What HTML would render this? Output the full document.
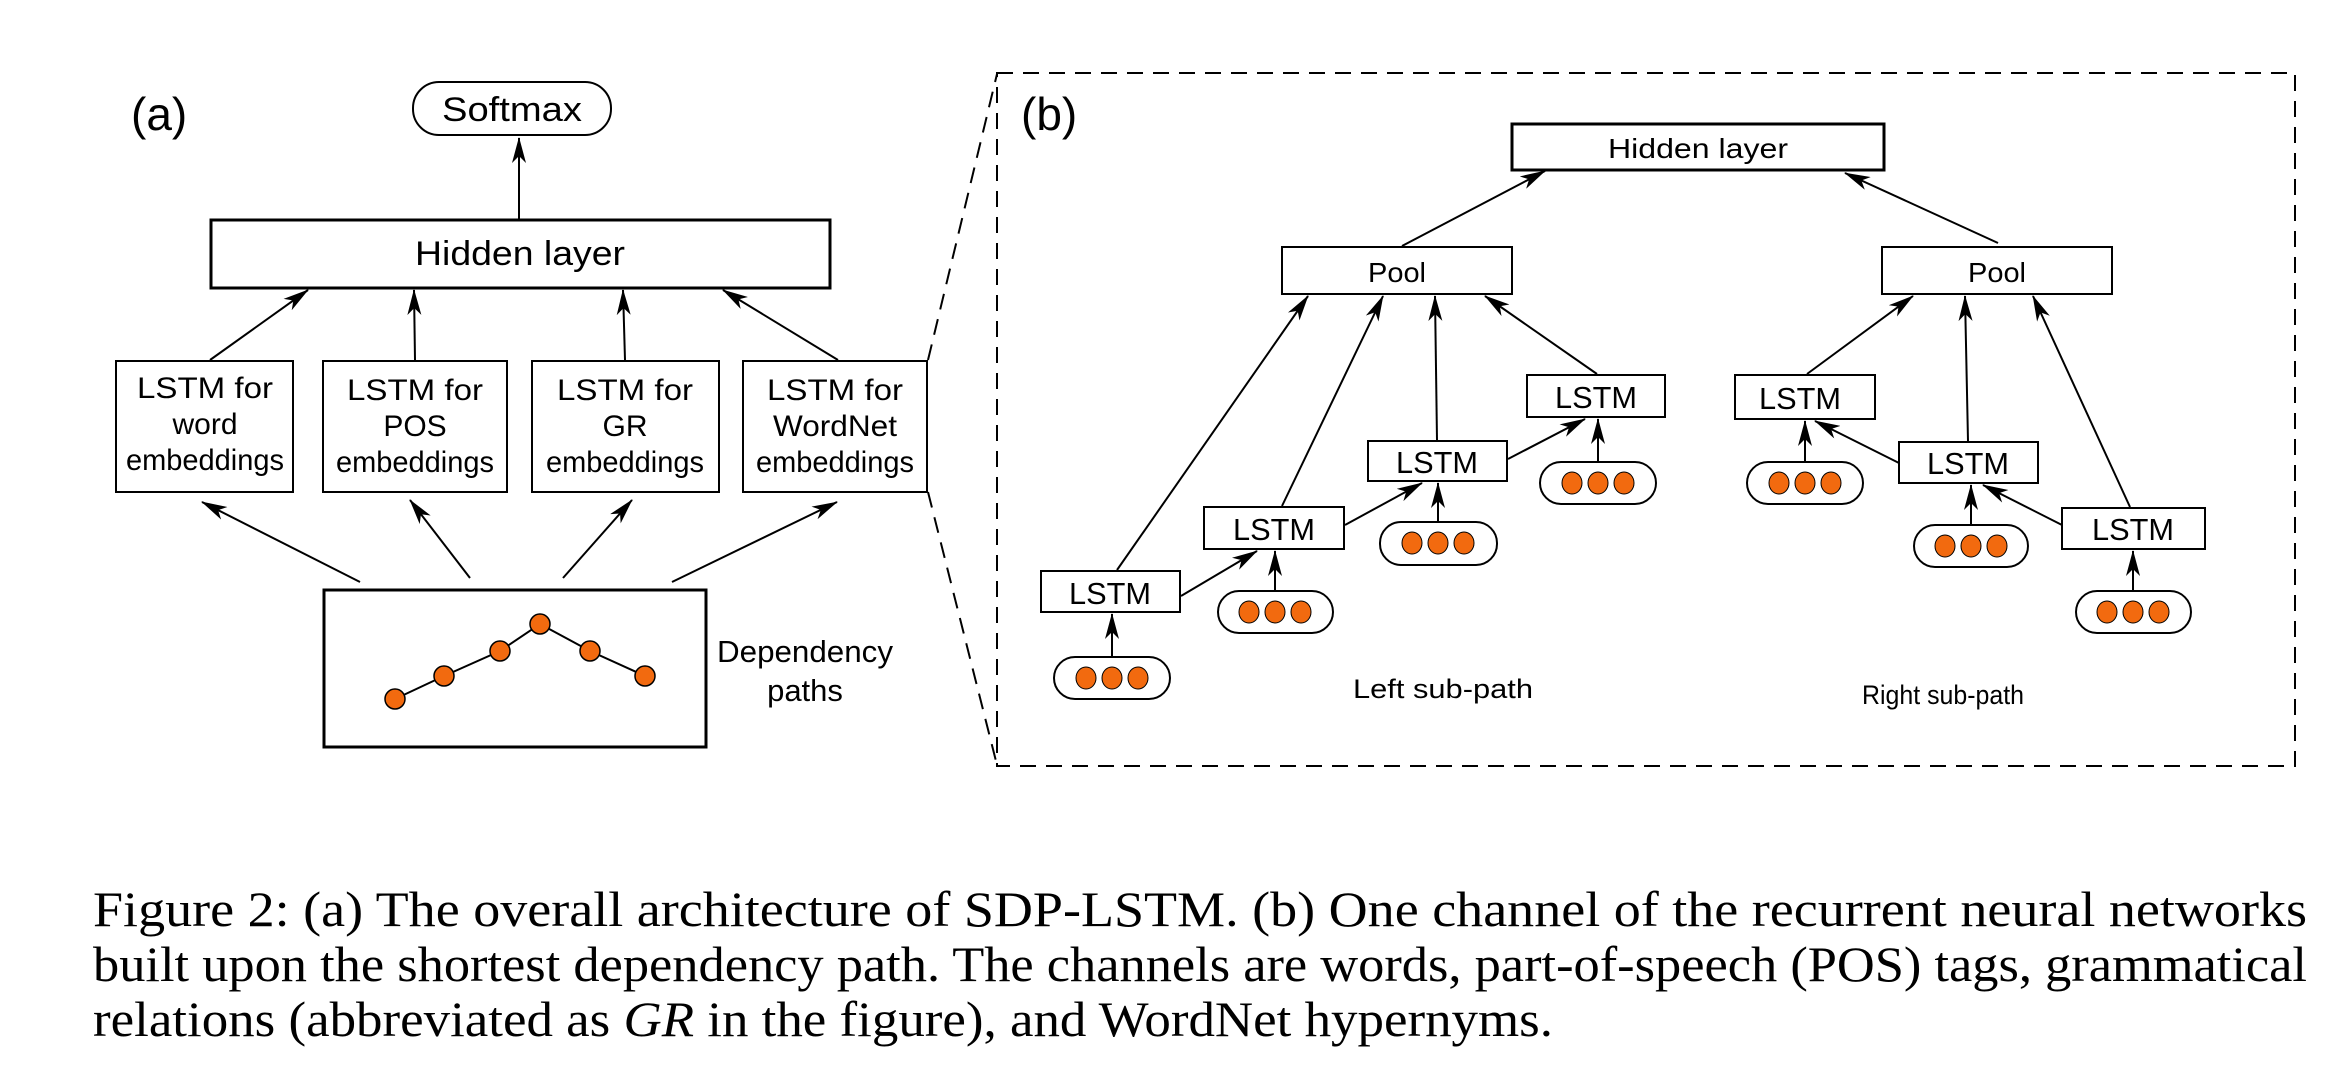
<!DOCTYPE html>
<html><head><meta charset="utf-8"><style>html,body{margin:0;padding:0;background:#fff}svg{display:block}</style></head>
<body>
<svg width="2351" height="1080" viewBox="0 0 2351 1080" xmlns="http://www.w3.org/2000/svg">
<defs>
<marker id="ah" viewBox="0 0 26 14" refX="25" refY="7" markerWidth="26" markerHeight="14" markerUnits="userSpaceOnUse" orient="auto">
<path d="M0,0 L26,7 L0,14 L7,7 Z" fill="#000"/>
</marker>
</defs>
<g font-family="Liberation Sans, sans-serif" fill="#000">
<text x="131" y="130" font-size="46">(a)</text>
<rect x="413" y="82" width="198" height="53" rx="26" fill="#fff" stroke="#000" stroke-width="2"/>
<text x="512" y="121" font-size="34" text-anchor="middle" textLength="140" lengthAdjust="spacingAndGlyphs">Softmax</text>
<line x1="519" y1="220" x2="519" y2="138" stroke="#000" stroke-width="2" marker-end="url(#ah)"/>
<rect x="211" y="220" width="619" height="68" fill="#fff" stroke="#000" stroke-width="3"/>
<text x="520" y="265" font-size="34" text-anchor="middle" textLength="210" lengthAdjust="spacingAndGlyphs">Hidden layer</text>
<g stroke="#000" stroke-width="2" fill="#fff">
<rect x="116" y="361" width="177" height="131"/>
<rect x="323" y="361" width="184" height="131"/>
<rect x="532" y="361" width="187" height="131"/>
<rect x="743" y="361" width="184" height="131"/>
</g>
<g font-size="30" text-anchor="middle">
<text x="205" y="398" textLength="136" lengthAdjust="spacingAndGlyphs">LSTM for</text><text x="205" y="434">word</text><text x="205" y="470" textLength="158" lengthAdjust="spacingAndGlyphs">embeddings</text>
<text x="415" y="400" textLength="136" lengthAdjust="spacingAndGlyphs">LSTM for</text><text x="415" y="436">POS</text><text x="415" y="472" textLength="158" lengthAdjust="spacingAndGlyphs">embeddings</text>
<text x="625" y="400" textLength="136" lengthAdjust="spacingAndGlyphs">LSTM for</text><text x="625" y="436">GR</text><text x="625" y="472" textLength="158" lengthAdjust="spacingAndGlyphs">embeddings</text>
<text x="835" y="400" textLength="136" lengthAdjust="spacingAndGlyphs">LSTM for</text><text x="835" y="436" textLength="124" lengthAdjust="spacingAndGlyphs">WordNet</text><text x="835" y="472" textLength="158" lengthAdjust="spacingAndGlyphs">embeddings</text>
</g>
<g stroke="#000" stroke-width="2" marker-end="url(#ah)">
<line x1="210" y1="360" x2="308" y2="290"/>
<line x1="415" y1="360" x2="414" y2="290"/>
<line x1="625" y1="360" x2="623" y2="290"/>
<line x1="838" y1="360" x2="723" y2="290"/>
<line x1="360" y1="582" x2="202" y2="502"/>
<line x1="470" y1="578" x2="410" y2="500"/>
<line x1="563" y1="578" x2="632" y2="500"/>
<line x1="672" y1="582" x2="837" y2="502"/>
</g>
<rect x="324" y="590" width="382" height="157" fill="#fff" stroke="#000" stroke-width="3"/>
<polyline points="395,699 444,676 500,651 540,624 590,651 645,676" fill="none" stroke="#000" stroke-width="2"/>
<g fill="#f26a0f" stroke="#000" stroke-width="1.5">
<circle cx="395" cy="699" r="10"/><circle cx="444" cy="676" r="10"/><circle cx="500" cy="651" r="10"/>
<circle cx="540" cy="624" r="10"/><circle cx="590" cy="651" r="10"/><circle cx="645" cy="676" r="10"/>
</g>
<text x="805" y="662" font-size="31" text-anchor="middle" textLength="176" lengthAdjust="spacingAndGlyphs">Dependency</text>
<text x="805" y="701" font-size="31" text-anchor="middle">paths</text>
<g stroke="#000" stroke-width="2" stroke-dasharray="16,10" fill="none">
<line x1="928" y1="360" x2="997" y2="74"/>
<line x1="928" y1="492" x2="997" y2="765"/>
<rect x="997" y="73" width="1298" height="693"/>
</g>
<text x="1021" y="130" font-size="46">(b)</text>
<rect x="1512" y="124" width="372" height="46" fill="#fff" stroke="#000" stroke-width="3"/>
<text x="1698" y="158" font-size="28" text-anchor="middle" textLength="180" lengthAdjust="spacingAndGlyphs">Hidden layer</text>
<rect x="1282" y="247" width="230" height="47" fill="#fff" stroke="#000" stroke-width="2"/>
<rect x="1882" y="247" width="230" height="47" fill="#fff" stroke="#000" stroke-width="2"/>
<text x="1397" y="282" font-size="28" text-anchor="middle" textLength="58" lengthAdjust="spacingAndGlyphs">Pool</text>
<text x="1997" y="282" font-size="28" text-anchor="middle" textLength="58" lengthAdjust="spacingAndGlyphs">Pool</text>
<g stroke="#000" stroke-width="2" fill="#fff">
<rect x="1041" y="571" width="139" height="41"/>
<rect x="1204" y="507" width="140" height="42"/>
<rect x="1368" y="441" width="139" height="40"/>
<rect x="1527" y="375" width="138" height="42"/>
<rect x="1735" y="375" width="140" height="44"/>
<rect x="1899" y="442" width="139" height="41"/>
<rect x="2062" y="508" width="143" height="41"/>
</g>
<g font-size="31" text-anchor="middle">
<text x="1110" y="604" textLength="82" lengthAdjust="spacingAndGlyphs">LSTM</text><text x="1274" y="540" textLength="82" lengthAdjust="spacingAndGlyphs">LSTM</text><text x="1437" y="473" textLength="82" lengthAdjust="spacingAndGlyphs">LSTM</text>
<text x="1596" y="408" textLength="82" lengthAdjust="spacingAndGlyphs">LSTM</text><text x="1800" y="409" textLength="82" lengthAdjust="spacingAndGlyphs">LSTM</text><text x="1968" y="474" textLength="82" lengthAdjust="spacingAndGlyphs">LSTM</text><text x="2133" y="540" textLength="82" lengthAdjust="spacingAndGlyphs">LSTM</text>
</g>
<g stroke="#000" stroke-width="2" fill="#fff">
<rect x="1054" y="657" width="116" height="42" rx="21"/>
<rect x="1218" y="591" width="115" height="42" rx="21"/>
<rect x="1380" y="522" width="117" height="43" rx="21"/>
<rect x="1540" y="462" width="116" height="42" rx="21"/>
<rect x="1747" y="462" width="116" height="42" rx="21"/>
<rect x="1914" y="525" width="114" height="42" rx="21"/>
<rect x="2076" y="591" width="115" height="42" rx="21"/>
</g>
<g fill="#f26a0f" stroke="#000" stroke-width="1">
<g transform="translate(1112,678)"><ellipse cx="-26" rx="10" ry="11"/><ellipse rx="10" ry="11"/><ellipse cx="26" rx="10" ry="11"/></g>
<g transform="translate(1275,612)"><ellipse cx="-26" rx="10" ry="11"/><ellipse rx="10" ry="11"/><ellipse cx="26" rx="10" ry="11"/></g>
<g transform="translate(1438,543)"><ellipse cx="-26" rx="10" ry="11"/><ellipse rx="10" ry="11"/><ellipse cx="26" rx="10" ry="11"/></g>
<g transform="translate(1598,483)"><ellipse cx="-26" rx="10" ry="11"/><ellipse rx="10" ry="11"/><ellipse cx="26" rx="10" ry="11"/></g>
<g transform="translate(1805,483)"><ellipse cx="-26" rx="10" ry="11"/><ellipse rx="10" ry="11"/><ellipse cx="26" rx="10" ry="11"/></g>
<g transform="translate(1971,546)"><ellipse cx="-26" rx="10" ry="11"/><ellipse rx="10" ry="11"/><ellipse cx="26" rx="10" ry="11"/></g>
<g transform="translate(2133,612)"><ellipse cx="-26" rx="10" ry="11"/><ellipse rx="10" ry="11"/><ellipse cx="26" rx="10" ry="11"/></g>
</g>
<g stroke="#000" stroke-width="2" marker-end="url(#ah)">
<line x1="1402" y1="246" x2="1545" y2="171"/>
<line x1="1998" y1="243" x2="1845" y2="173"/>
<line x1="1112" y1="656" x2="1112" y2="614"/>
<line x1="1275" y1="590" x2="1275" y2="551"/>
<line x1="1438" y1="521" x2="1438" y2="483"/>
<line x1="1598" y1="461" x2="1598" y2="419"/>
<line x1="1805" y1="461" x2="1805" y2="421"/>
<line x1="1971" y1="524" x2="1971" y2="485"/>
<line x1="2133" y1="590" x2="2133" y2="551"/>
<line x1="1181" y1="596" x2="1257" y2="551"/>
<line x1="1345" y1="525" x2="1422" y2="483"/>
<line x1="1508" y1="459" x2="1585" y2="419"/>
<line x1="2062" y1="525" x2="1983" y2="485"/>
<line x1="1899" y1="463" x2="1815" y2="421"/>
<line x1="1117" y1="570" x2="1308" y2="296"/>
<line x1="1282" y1="506" x2="1383" y2="296"/>
<line x1="1437" y1="440" x2="1435" y2="296"/>
<line x1="1597" y1="374" x2="1485" y2="296"/>
<line x1="1807" y1="374" x2="1913" y2="296"/>
<line x1="1968" y1="441" x2="1965" y2="296"/>
<line x1="2130" y1="507" x2="2033" y2="296"/>
</g>
<text x="1443" y="698" font-size="27" text-anchor="middle" textLength="180" lengthAdjust="spacingAndGlyphs">Left sub-path</text>
<text x="1943" y="704" font-size="27" text-anchor="middle" textLength="162" lengthAdjust="spacingAndGlyphs">Right sub-path</text>
</g>
<g font-family="Liberation Serif, serif" font-size="50" fill="#000">
<text x="93" y="926" textLength="2214" lengthAdjust="spacingAndGlyphs">Figure 2: (a) The overall architecture of SDP-LSTM. (b) One channel of the recurrent neural networks</text>
<text x="93" y="981" textLength="2214" lengthAdjust="spacingAndGlyphs">built upon the shortest dependency path. The channels are words, part-of-speech (POS) tags, grammatical</text>
<text x="93" y="1036" textLength="1460" lengthAdjust="spacingAndGlyphs">relations (abbreviated as <tspan font-style="italic">GR</tspan> in the figure), and WordNet hypernyms.</text>
</g>
</svg>
</body></html>
